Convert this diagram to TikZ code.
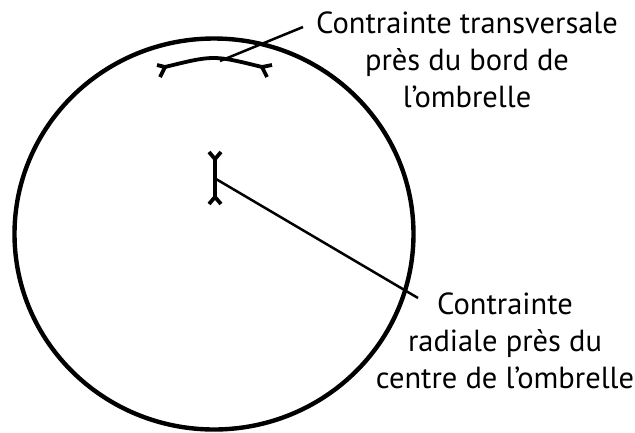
\documentclass[tikz,border=0pt]{standalone}
\usepackage{fontspec}
\setmainfont{PT Sans}
\begin{document}
\begin{tikzpicture}[x=1pt,y=-1pt,
  rim/.style={line width=4.4pt},
  gauge/.style={line width=3.8pt},
  leader/.style={line width=2.5pt},
  lbl/.style={align=center, font=\fontsize{30.5}{37}\selectfont, inner sep=0pt}]
\useasboundingbox (0,0) rectangle (635,432);
\fill[white] (0,0) rectangle (635,432);
% umbrella
\draw[rim] (214,234) ellipse [x radius=199.5, y radius=195.5];
% transverse gauge near rim
\coordinate (tl) at (165,67);
\coordinate (tr) at (262,67);
\coordinate (tm) at (220,61);
\draw[gauge] (tl) .. controls (213.5,55) .. (tr);
\draw[gauge] (157,65) -- (tl) -- (160,77);
\draw[gauge] (272,65) -- (tr) -- (267,77);
% radial gauge near centre
\coordinate (ct) at (215,159);
\coordinate (cb) at (215,197);
\coordinate (cm) at (216,179);
\draw[gauge] (ct) -- (cb);
\draw[gauge] (209,152) -- (ct) -- (221,152);
\draw[gauge] (209,204) -- (cb) -- (221,204);
% labels
\node[lbl, anchor=base] (top) at (467,107) {Contrainte transversale\\près du bord de\\l’ombrelle};
\node[lbl, anchor=base] (bot) at (505,388) {Contrainte\\radiale près du\\centre de l’ombrelle};
\coordinate (topend) at (303,27);
\coordinate (botend) at (418,298);
\draw[leader] (tm) -- (topend);
\draw[leader] (cm) -- (botend);
\end{tikzpicture}
\end{document}
